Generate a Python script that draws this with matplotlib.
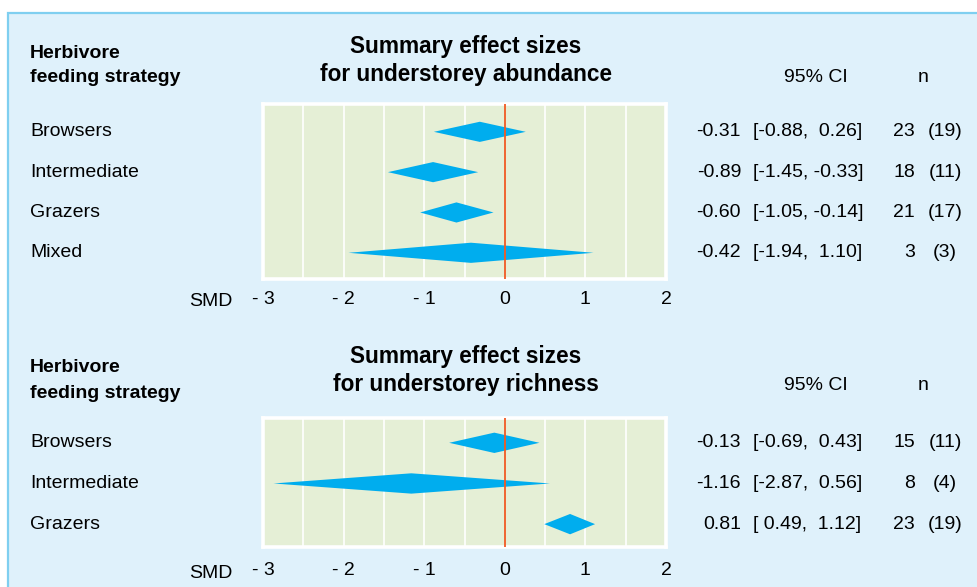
import matplotlib
matplotlib.use("Agg")
import matplotlib.pyplot as plt
import matplotlib.patches as mpatches
import matplotlib.transforms as mtransforms

plt.rcParams['font.family'] = ['Liberation Sans', 'DejaVu Sans']

# ---- data ----
abund_groups = ["Browsers", "Intermediate", "Grazers", "Mixed"]
abund_est = [-0.31, -0.89, -0.60, -0.42]
abund_lo = [-0.88, -1.45, -1.05, -1.94]
abund_hi = [0.26, -0.33, -0.14, 1.10]
abund_n = [23, 18, 21, 3]
abund_nstudies = [19, 11, 17, 3]

rich_groups = ["Browsers", "Intermediate", "Grazers"]
rich_est = [-0.13, -1.16, 0.81]
rich_lo = [-0.69, -2.87, 0.49]
rich_hi = [0.43, 0.56, 1.12]
rich_n = [15, 8, 23]
rich_nstudies = [11, 4, 19]

xticks = [-3, -2, -1, 0, 1, 2]
xticklabels = ["- 3", "- 2", "- 1", "0", "1", "2"]
gridlines = [-2.5, -2, -1.5, -1, -0.5, 0.5, 1, 1.5]

W, H = 977, 587
BG = "#dff1fb"
BORDER = "#7fcff0"
GREEN = "#e5efd6"
DIAMOND = "#00adee"
RED = "#f15a24"
FS = 14

fig = plt.figure(figsize=(W / 100, H / 100), dpi=100, facecolor="white")

def fx(x):
    return x / W

def fy(y):
    return 1 - y / H

# outer frame
frame = mpatches.Rectangle((fx(7.5), -0.1), 1.2, fy(12.5) + 0.1, transform=fig.transFigure,
                           facecolor=BG, edgecolor=BORDER, linewidth=1.6, zorder=-10)
fig.patches.append(frame)


def panel(top_px, bottom_px, ylim, groups, est, lo, hi, n, ns, title2, head_y, title_y, ci_y, pad):
    left_px, right_px = 263, 666
    ax = fig.add_axes([fx(left_px), fy(bottom_px), (right_px - left_px) / W, (bottom_px - top_px) / H])
    ax.set_zorder(1)
    ax.set_facecolor(GREEN)
    ax.set_xlim(-3, 2)
    ax.set_ylim(*ylim)
    for s in ax.spines.values():
        s.set_color("white")
        s.set_linewidth(2.6)
    for g in gridlines:
        ax.axvline(g, color="white", lw=1.2, zorder=1)
    ax.axvline(0, color=RED, lw=1.3, zorder=3)
    ax.set_yticks([])
    ax.set_xticks(xticks)
    ax.set_xticklabels(xticklabels, fontsize=FS)
    ax.tick_params(axis="x", length=0, pad=pad)
    for i, (e, l, h) in enumerate(zip(est, lo, hi)):
        poly = mpatches.Polygon([(l, i), (e, i - 0.25), (h, i), (e, i + 0.25)], closed=True,
                                facecolor=DIAMOND, edgecolor="none", zorder=2)
        ax.add_patch(poly)
    tr = mtransforms.blended_transform_factory(fig.transFigure, ax.transData)
    for i, g in enumerate(groups):
        ax.text(fx(30), i, g, transform=tr, ha="left", va="center", fontsize=FS, clip_on=False)
        ax.text(fx(741), i, f"{est[i]:.2f}", transform=tr, ha="right", va="center", fontsize=FS, clip_on=False)
        ax.text(fx(753), i, f"[{lo[i]:5.2f}, {hi[i]:5.2f}]", transform=tr, ha="left", va="center",
                fontsize=FS, clip_on=False)
        ax.text(fx(915), i, f"{n[i]}", transform=tr, ha="right", va="center", fontsize=FS, clip_on=False)
        ax.text(fx(945), i, f"({ns[i]})", transform=tr, ha="center", va="center", fontsize=FS, clip_on=False)
    # headers
    fig.text(fx(30), fy(head_y[0]), "Herbivore", ha="left", va="center", fontsize=FS, fontweight="bold")
    fig.text(fx(30), fy(head_y[1]), "feeding strategy", ha="left", va="center", fontsize=FS, fontweight="bold")
    fig.text(fx(466), fy(title_y[0]), "Summary effect sizes", ha="center", va="center", fontsize=16.3,
             fontweight="bold")
    fig.text(fx(466), fy(title_y[1]), title2, ha="center", va="center", fontsize=16.3, fontweight="bold")
    fig.text(fx(816), fy(ci_y), "95% CI", ha="center", va="center", fontsize=FS)
    fig.text(fx(923), fy(ci_y), "n", ha="center", va="center", fontsize=FS)
    return ax


ax1 = panel(104, 279, (3.65, -0.69), abund_groups, abund_est, abund_lo, abund_hi, abund_n, abund_nstudies,
            "for understorey abundance", (54, 78), (46, 74), 78, 9.0)
ax2 = panel(418, 546.5, (2.55, -0.61), rich_groups, rich_est, rich_lo, rich_hi, rich_n, rich_nstudies,
            "for understorey richness", (368, 393), (356, 385), 386, 11.5)

fig.text(fx(211), fy(302), "SMD", ha="center", va="center", fontsize=FS)
fig.text(fx(211), fy(573), "SMD", ha="center", va="center", fontsize=FS)

fig.savefig("out.png", dpi=100, facecolor="white")
